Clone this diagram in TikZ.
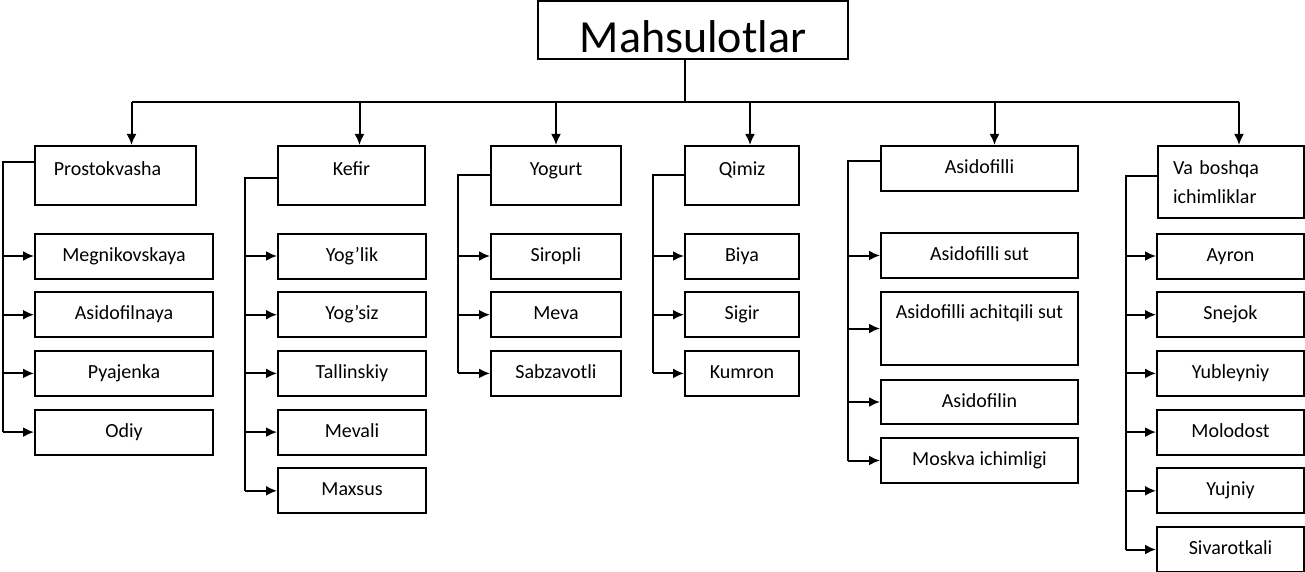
\documentclass[tikz,border=0pt]{standalone}
\usepackage{fontspec}
\setmainfont{Carlito}
\usepackage{tikz}
\usetikzlibrary{calc,arrows.meta}

\begin{document}
\begin{tikzpicture}[x=1pt,y=-1pt,line width=2pt,
        box/.style={draw,inner sep=0pt,font=\fontsize{20}{24}\selectfont,text height=14pt,text depth=4pt},
        feed/.style={-{Latex[length=11pt,width=10pt]}}]
    \useasboundingbox (0,0) rectangle (1305,572);
        \node[box,minimum width=310pt,minimum height=58pt,font=\fontsize{46}{54}\selectfont,text height=46pt,text depth=0pt] (top) at (693,30) {Mahsulotlar};
        \node[box,minimum width=161pt,minimum height=59pt,text depth=14pt] (pro) at (115.5,175.5) {Prostokvasha\kern16pt\mbox{}};
        \node[box,minimum width=147pt,minimum height=59pt,text depth=14pt] (kef) at (351.5,175.5) {Kefir};
        \node[box,minimum width=130pt,minimum height=59pt,text depth=14pt] (yog) at (556,175.5) {Yogurt};
        \node[box,minimum width=114pt,minimum height=59pt,text depth=14pt] (qim) at (742,175.5) {Qimiz};
        \node[box,minimum width=197pt,minimum height=45pt] (asi) at (979.5,168.5) {Asidofilli};
        \node[box,minimum width=146pt,minimum height=72pt,text width=116pt,align=left,text height=,text depth=,font=\fontsize{20}{29}\selectfont] (va) at (1231,182) {Va boshqa\\ichimliklar};
        % top bus
        \coordinate (bus) at (685,102);
        \draw (bus |- top.south) -- (bus);
        \foreach \b/\s in {pro/16,kef/8,yog/0,qim/8,asi/15,va/8}{
            \coordinate (\b D) at ([xshift=\s pt]\b.north);
            \draw[feed] (\b D |- bus) -- (\b D);
        }
        \draw (proD |- bus) -- (vaD |- bus);
        % Prostokvasha
        \foreach \n/\t [count=\i] in {p1/Megnikovskaya,p2/Asidofilnaya,p3/Pyajenka,p4/Odiy}
            \node[box,minimum width=178pt,minimum height=45pt] (\n) at (124,{256+58.7*(\i-1)}) {\t};
        \coordinate (proT) at (3,162);
        \draw (pro.west |- proT) -- (proT) -- (proT |- p4.west);
        \foreach \n in {p1,p2,p3,p4}
            \draw[feed] (proT |- \n.west) -- (\n.west);
        % Kefir
        \foreach \n/\t [count=\i] in {k1/Yog’lik,k2/Yog’siz,k3/Tallinskiy,k4/Mevali,k5/Maxsus}
            \node[box,minimum width=148pt,minimum height=45pt] (\n) at (352,{256+58.7*(\i-1)}) {\t};
        \coordinate (kefT) at (245,178);
        \draw (kef.west |- kefT) -- (kefT) -- (kefT |- k5.west);
        \foreach \n in {k1,k2,k3,k4,k5}
            \draw[feed] (kefT |- \n.west) -- (\n.west);
        % Yogurt
        \foreach \n/\t [count=\i] in {y1/Siropli,y2/Meva,y3/Sabzavotli}
            \node[box,minimum width=130pt,minimum height=45pt] (\n) at (556,{256+58.7*(\i-1)}) {\t};
        \coordinate (yogT) at (458,175);
        \draw (yog.west |- yogT) -- (yogT) -- (yogT |- y3.west);
        \foreach \n in {y1,y2,y3}
            \draw[feed] (yogT |- \n.west) -- (\n.west);
        % Qimiz
        \foreach \n/\t [count=\i] in {q1/Biya,q2/Sigir,q3/Kumron}
            \node[box,minimum width=114pt,minimum height=45pt] (\n) at (742,{256+58.7*(\i-1)}) {\t};
        \coordinate (qimT) at (653,175);
        \draw (qim.west |- qimT) -- (qimT) -- (qimT |- q3.west);
        \foreach \n in {q1,q2,q3}
            \draw[feed] (qimT |- \n.west) -- (\n.west);
        % Asidofilli
        \node[box,minimum width=197pt,minimum height=45pt] (a1) at (979.5,255.5) {Asidofilli sut};
        \node[box,minimum width=197pt,minimum height=73pt,text depth=35pt] (a2) at (979.5,328.5) {Asidofilli achitqili sut};
        \node[box,minimum width=197pt,minimum height=44pt] (a3) at (979.5,402) {Asidofilin};
        \node[box,minimum width=197pt,minimum height=45pt] (a4) at (979.5,460.5) {Moskva ichimligi};
        \coordinate (asiT) at (848,161);
        \draw (asi.west |- asiT) -- (asiT) -- (asiT |- a4.west);
        \foreach \n in {a1,a2,a3,a4}
            \draw[feed] (asiT |- \n.west) -- (\n.west);
        % Va boshqa ichimliklar
        \foreach \n/\t [count=\i] in {v1/Ayron,v2/Snejok,v3/Yubleyniy,v4/Molodost,v5/Yujniy,v6/Sivarotkali}
            \node[box,minimum width=147pt,minimum height=45pt] (\n) at (1230.5,{256+58.7*(\i-1)}) {\t};
        \coordinate (vaT) at (1126,176);
        \draw (va.west |- vaT) -- (vaT) -- (vaT |- v6.west);
        \foreach \n in {v1,v2,v3,v4,v5,v6}
            \draw[feed] (vaT |- \n.west) -- (\n.west);
\end{tikzpicture}
\end{document}
